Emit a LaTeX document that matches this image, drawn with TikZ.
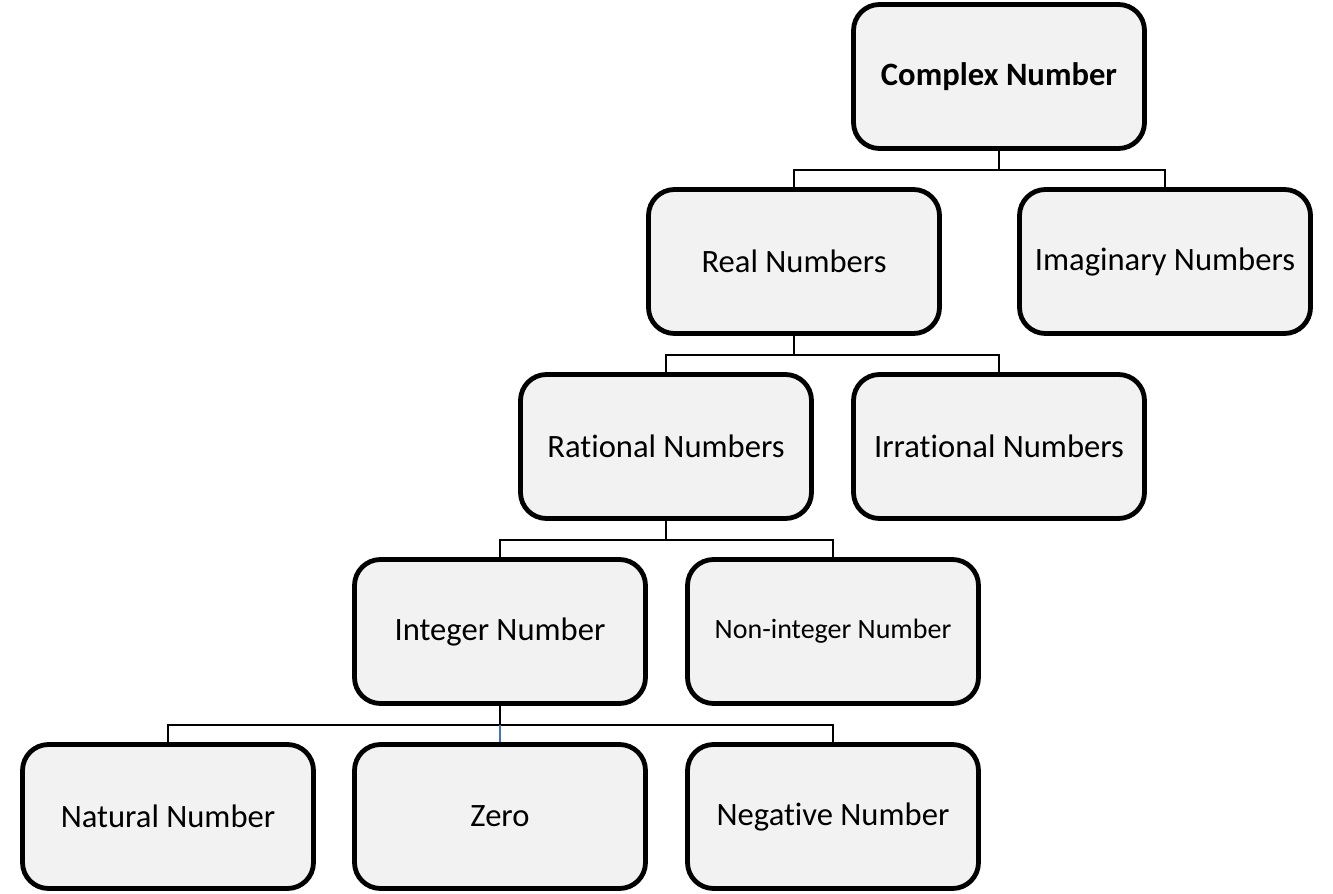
\documentclass[tikz,border=0pt]{standalone}
\usepackage{fontspec}
\setmainfont{Carlito}[Ligatures=NoCommon]
\usepackage{tikz}
\usepackage{xcolor}
\usetikzlibrary{positioning}
\definecolor{boxgray}{HTML}{F2F2F2}
\definecolor{zeroblue}{HTML}{4472C4}

\begin{document}
\begin{tikzpicture}[x=0.5pt, y=-0.5pt, node distance=92.5pt]
        \tikzstyle{every node}=[font=\fontsize{16.3}{19}\selectfont]
        \tikzstyle{numbox}=[rectangle, rounded corners=13pt, draw, line width=2.4pt, fill=boxgray, minimum width=145.5pt, minimum height=72pt, inner sep=0pt]
        \tikzstyle{link}=[line width=1.1pt]
        \useasboundingbox (0,0) rectangle (1333,894);

        % Nodes
		\node (complex) [numbox, font=\fontsize{16.3}{19}\selectfont\bfseries] at (999,76.5) {Complex Number};
		\node (real) [numbox, below of=complex, xshift=-102.5pt] {Real Numbers};
		\node (imaginary) [numbox, right of=real, node distance=185.5pt] {Imaginary Numbers};
		\node (rational) [numbox, below of=real, xshift=-64pt] {Rational Numbers};
		\node (irrational) [numbox, right of=rational, node distance=166.5pt] {Irrational Numbers};
		\node (integer) [numbox, below of=rational, xshift=-83pt] {Integer Number};
		\node (noninteger) [numbox, right of=integer, node distance=166.5pt, font=\fontsize{14}{17}\selectfont] {Non-integer Number};
		\node (zero) [numbox, below of=integer] {Zero};
		\node (natural) [numbox, left of=zero, node distance=166pt] {Natural Number};
		\node (negative) [numbox, right of=zero, node distance=166.5pt] {Negative Number};

        % Edges
        \draw[link] (complex.south) -- ++(0,19) -| (real.north);
        \draw[link] (complex.south) -- ++(0,19) -| (imaginary.north);
        \draw[link] (real.south) -- ++(0,19) -| (rational.north);
        \draw[link] (real.south) -- ++(0,19) -| (irrational.north);
        \draw[link] (rational.south) -- ++(0,19) -| (integer.north);
        \draw[link] (rational.south) -- ++(0,19) -| (noninteger.north);
        \draw[link] (integer.south) -- ++(0,19) -| (natural.north);
        \draw[link] (integer.south) -- ++(0,19) -| (negative.north);
        \draw[link] (integer.south) -- ++(0,19) coordinate (zerofork);
        \draw[line width=0.6pt, zeroblue] (zerofork) -- (zero.north);

    \end{tikzpicture}
\end{document}
